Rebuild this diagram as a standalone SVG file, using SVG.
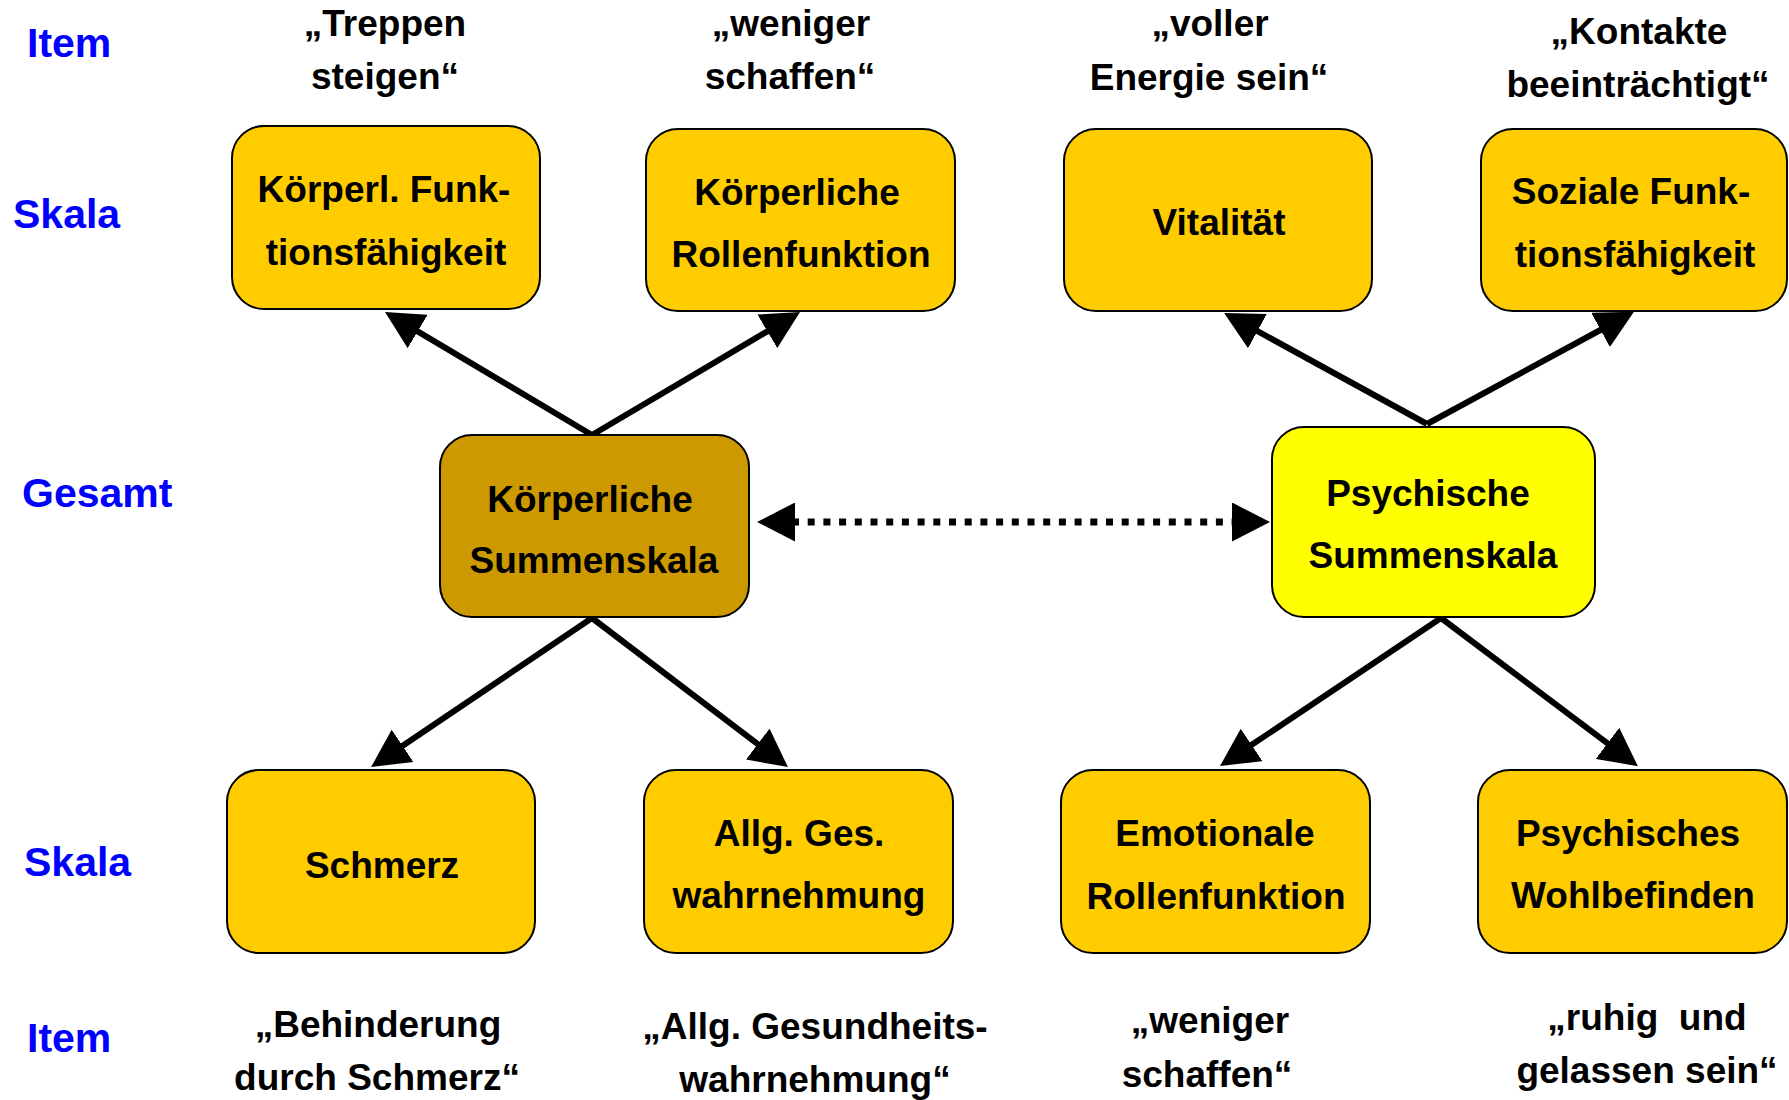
<svg xmlns="http://www.w3.org/2000/svg" width="1789" height="1100" viewBox="0 0 1789 1100">
<defs>
<marker id="ah" viewBox="0 0 38 39" markerWidth="38" markerHeight="39" markerUnits="userSpaceOnUse" refX="3" refY="19.5" orient="auto-start-reverse">
<path d="M0,0 L38,19.5 L0,39 z" fill="#000"/>
</marker>
</defs>
<style>
.box{stroke:#000;stroke-width:2}
.sc{fill:#FFCC00}
.t{font-family:"Liberation Sans",Arial,sans-serif;font-weight:bold;font-size:37px;fill:#000;text-anchor:middle;white-space:pre}
.lab{font-family:"Liberation Sans",Arial,sans-serif;font-weight:bold;font-size:41px;fill:#0000FF}
.ar{stroke:#000;stroke-width:6;fill:none;marker-end:url(#ah)}
.da{stroke:#000;stroke-width:7;fill:none;stroke-dasharray:7 8.7;marker-start:url(#ah);marker-end:url(#ah)}
</style>
<rect width="1789" height="1100" fill="#fff"/>

<g id="labels">
<text class="lab" x="27" y="57">Item</text>
<text class="lab" x="13" y="228">Skala</text>
<text class="lab" x="22" y="507">Gesamt</text>
<text class="lab" x="24" y="876">Skala</text>
<text class="lab" x="27" y="1052">Item</text>
</g>

<g id="items">
<text class="t" x="385" y="36">„Treppen</text>
<text class="t" x="385" y="89">steigen“</text>
<text class="t" x="791" y="36">„weniger</text>
<text class="t" x="790" y="89">schaffen“</text>
<text class="t" x="1210" y="36">„voller</text>
<text class="t" x="1209" y="90">Energie sein“</text>
<text class="t" x="1639" y="44">„Kontakte</text>
<text class="t" x="1638" y="97">beeinträchtigt“</text>
<text class="t" x="378" y="1037">„Behinderung</text>
<text class="t" x="377" y="1090">durch Schmerz“</text>
<text class="t" x="815" y="1039">„Allg. Gesundheits-</text>
<text class="t" x="815" y="1092">wahrnehmung“</text>
<text class="t" x="1210" y="1033">„weniger</text>
<text class="t" x="1207" y="1087">schaffen“</text>
<text class="t" x="1647" y="1030">„ruhig&#160; und</text>
<text class="t" x="1647" y="1083">gelassen sein“</text>
</g>

<g id="connectors">
<line class="ar" x1="592" y1="435" x2="415.1" y2="329.9"/>
<line class="ar" x1="592" y1="435" x2="769.9" y2="329.8"/>
<line class="ar" x1="1427" y1="424" x2="1254.8" y2="329.7"/>
<line class="ar" x1="1427" y1="424" x2="1603.2" y2="328.5"/>
<line class="ar" x1="592" y1="618" x2="400.1" y2="747.5"/>
<line class="ar" x1="592" y1="618" x2="760.1" y2="745.9"/>
<line class="ar" x1="1441" y1="618" x2="1249.1" y2="746.6"/>
<line class="ar" x1="1441" y1="618" x2="1609.9" y2="745.1"/>
<line class="da" x1="792" y1="522" x2="1235" y2="522"/>
</g>

<g id="n-kfunk">
<rect class="box sc" x="232" y="126" width="308" height="183" rx="32"/>
<text class="t" x="384" y="202">Körperl. Funk-</text>
<text class="t" x="386" y="265">tionsfähigkeit</text>
</g>
<g id="n-krolle">
<rect class="box sc" x="646" y="129" width="309" height="182" rx="32"/>
<text class="t" x="797" y="205">Körperliche</text>
<text class="t" x="801" y="267">Rollenfunktion</text>
</g>
<g id="n-vital">
<rect class="box sc" x="1064" y="129" width="308" height="182" rx="32"/>
<text class="t" x="1219" y="235">Vitalität</text>
</g>
<g id="n-sozial">
<rect class="box sc" x="1481" y="129" width="306" height="182" rx="32"/>
<text class="t" x="1631" y="204">Soziale Funk-</text>
<text class="t" x="1635" y="267">tionsfähigkeit</text>
</g>
<g id="n-ksum">
<rect class="box" fill="#CC9900" x="440" y="435" width="309" height="182" rx="32"/>
<text class="t" x="590" y="512">Körperliche</text>
<text class="t" x="594" y="573">Summenskala</text>
</g>
<g id="n-psum">
<rect class="box" fill="#FFFF00" x="1272" y="427" width="323" height="190" rx="32"/>
<text class="t" x="1428" y="506">Psychische</text>
<text class="t" x="1433" y="568">Summenskala</text>
</g>
<g id="n-schmerz">
<rect class="box sc" x="227" y="770" width="308" height="183" rx="32"/>
<text class="t" x="382" y="878">Schmerz</text>
</g>
<g id="n-allg">
<rect class="box sc" x="644" y="770" width="309" height="183" rx="32"/>
<text class="t" x="799" y="846">Allg. Ges.</text>
<text class="t" x="799" y="908">wahrnehmung</text>
</g>
<g id="n-emo">
<rect class="box sc" x="1061" y="770" width="309" height="183" rx="32"/>
<text class="t" x="1215" y="846">Emotionale</text>
<text class="t" x="1216" y="909">Rollenfunktion</text>
</g>
<g id="n-wohl">
<rect class="box sc" x="1478" y="770" width="309" height="183" rx="32"/>
<text class="t" x="1628" y="846">Psychisches</text>
<text class="t" x="1633" y="908">Wohlbefinden</text>
</g>
</svg>
